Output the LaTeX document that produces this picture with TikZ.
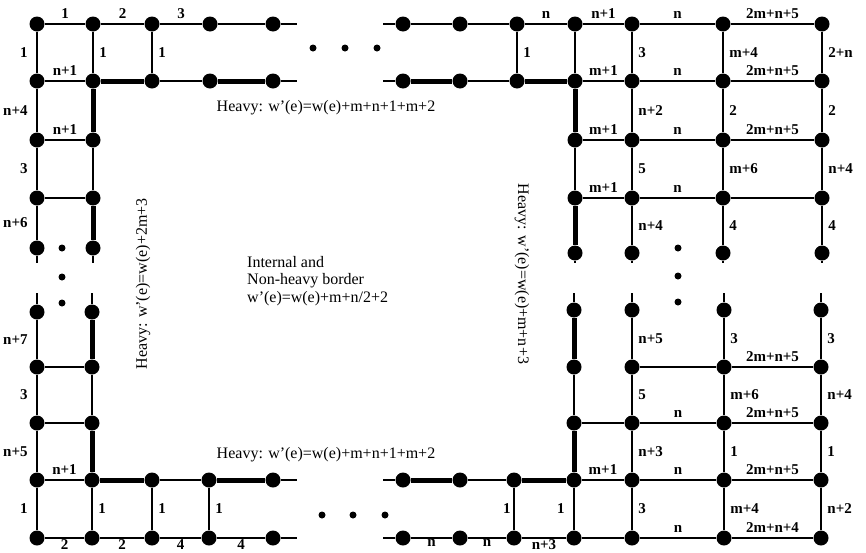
\documentclass[tikz,border=0pt]{standalone}
\usepackage{fontspec}
\setmainfont{Liberation Serif}
\usepackage{tikz}

\begin{document}
\begin{tikzpicture}[
  x=1pt, y=-1pt,
  vtx/.style={circle, fill=black, inner sep=0pt, minimum size=15pt},
  gap/.style={circle, fill=black, inner sep=0pt, minimum size=7pt},
  edg/.style={line width=1.8pt},
  hvy/.style={line width=5pt},
  lbl/.style={font=\fontsize{15}{16}\selectfont\bfseries, inner sep=2.5pt},
  wtop/.style={lbl, above=2pt},
  wbot/.style={lbl, below=-1.5pt},
  wlft/.style={lbl, left=6pt},
  wrgt/.style={lbl, right=3pt},
  note/.style={font=\fontsize{16}{17.5}\selectfont, inner sep=0pt, align=left},
]
\useasboundingbox (0,0) rectangle (866,552);
\clip (0,0) rectangle (866,552);

%% ===== TOP-LEFT CORNER =====
\node[vtx] (a11) at (37,24) {};  \node[vtx] (a12) at (93,24) {};  \node[vtx] (a13) at (152,24) {};
\node[vtx] (a14) at (210,24) {}; \node[vtx] (a15) at (273,24) {};
\node[vtx] (a21) at (37,81) {};  \node[vtx] (a22) at (93,81) {};  \node[vtx] (a23) at (152,81) {};
\node[vtx] (a24) at (210,81) {}; \node[vtx] (a25) at (273,81) {};
\node[vtx] (a31) at (37,140) {}; \node[vtx] (a32) at (93,140) {};
\node[vtx] (a41) at (37,198) {}; \node[vtx] (a42) at (93,198) {};
\node[vtx] (a51) at (37,248) {}; \node[vtx] (a52) at (93,248) {};
\coordinate (a1e) at (297,24);
\coordinate (a2e) at (297,81);
\coordinate (a6l) at (37,263);
\coordinate (a6r) at (93,263);

\draw[edg] (a11) -- node[wtop] {1} (a12) -- node[wtop] {2} (a13) -- node[wtop] {3} (a14) -- (a15) -- (a1e);
\draw[edg] (a21) -- node[wtop] {n+1} (a22);
\draw[hvy] (a22) -- (a23);
\draw[edg] (a23) -- (a24);
\draw[hvy] (a24) -- (a25);
\draw[edg] (a25) -- (a2e);
\draw[edg] (a11) -- node[wlft] {1} (a21);
\draw[edg] (a12) -- node[wrgt] {1} (a22);
\draw[edg] (a13) -- node[wrgt] {1} (a23);
\draw[edg] (a21) -- node[wlft] {n+4} (a31) -- node[wlft] {3} (a41) -- node[wlft] {n+6} (a51) -- (a6l);
\draw[hvy] (a22) -- (a32);
\draw[edg] (a32) -- (a42);
\draw[hvy] (a42) -- (a52);
\draw[edg] (a52) -- (a6r);
\draw[edg] (a31) -- node[wtop] {n+1} (a32);
\draw[edg] (a41) -- (a42);

%% ===== TOP-RIGHT CORNER =====
\node[vtx] (b11) at (403,24) {}; \node[vtx] (b12) at (460,24) {}; \node[vtx] (b13) at (517,24) {};
\node[vtx] (b14) at (575,24) {}; \node[vtx] (b15) at (632,24) {}; \node[vtx] (b16) at (723,24) {};
\node[vtx] (b17) at (822,24) {};
\node[vtx] (b21) at (403,81) {}; \node[vtx] (b22) at (460,81) {}; \node[vtx] (b23) at (517,81) {};
\node[vtx] (b24) at (575,81) {}; \node[vtx] (b25) at (632,81) {}; \node[vtx] (b26) at (723,81) {};
\node[vtx] (b27) at (822,81) {};
\node[vtx] (b34) at (575,140) {}; \node[vtx] (b35) at (632,140) {}; \node[vtx] (b36) at (723,140) {};
\node[vtx] (b37) at (822,140) {};
\node[vtx] (b44) at (575,198) {}; \node[vtx] (b45) at (632,198) {}; \node[vtx] (b46) at (723,198) {};
\node[vtx] (b47) at (822,198) {};
\node[vtx] (b54) at (575,253) {}; \node[vtx] (b55) at (632,253) {}; \node[vtx] (b56) at (723,253) {};
\node[vtx] (b57) at (822,253) {};
\coordinate (b1w) at (383,24);
\coordinate (b2w) at (383,81);
\coordinate (b64) at (575,263); \coordinate (b65) at (632,263);
\coordinate (b66) at (723,263); \coordinate (b67) at (822,263);

\draw[edg] (b1w) -- (b11) -- (b12) -- (b13) -- node[wtop] {n} (b14) -- node[wtop] {n+1} (b15)
  -- node[wtop] {n} (b16) -- node[wtop] {2m+n+5} (b17);
\draw[edg] (b2w) -- (b21);
\draw[hvy] (b21) -- (b22);
\draw[edg] (b22) -- (b23);
\draw[hvy] (b23) -- (b24);
\draw[edg] (b24) -- node[wtop] {m+1} (b25) -- node[wtop] {n} (b26) -- node[wtop] {2m+n+5} (b27);
\draw[edg] (b13) -- node[wrgt] {1} (b23);
\draw[edg] (b14) -- (b24);
\draw[edg] (b15) -- node[wrgt] {3} (b25);
\draw[edg] (b16) -- node[wrgt] {m+4} (b26);
\draw[edg] (b17) -- node[wrgt] {2+n} (b27);
\draw[edg] (b34) -- node[wtop] {m+1} (b35) -- node[wtop] {n} (b36) -- node[wtop] {2m+n+5} (b37);
\draw[edg] (b44) -- node[wtop] {m+1} (b45) -- node[wtop] {n} (b46) -- (b47);
\draw[hvy] (b24) -- (b34);
\draw[edg] (b34) -- (b44);
\draw[hvy] (b44) -- (b54);
\draw[edg] (b54) -- (b64);
\draw[edg] (b25) -- node[wrgt] {n+2} (b35) -- node[wrgt] {5} (b45) -- node[wrgt] {n+4} (b55) -- (b65);
\draw[edg] (b26) -- node[wrgt] {2} (b36) -- node[wrgt] {m+6} (b46) -- node[wrgt] {4} (b56) -- (b66);
\draw[edg] (b27) -- node[wrgt] {2} (b37) -- node[wrgt] {n+4} (b47) -- node[wrgt] {4} (b57) -- (b67);

%% ===== BOTTOM-LEFT CORNER =====
\node[vtx] (c11) at (37,312) {}; \node[vtx] (c12) at (92,312) {};
\node[vtx] (c21) at (37,367) {}; \node[vtx] (c22) at (92,367) {};
\node[vtx] (c31) at (37,423) {}; \node[vtx] (c32) at (92,423) {};
\node[vtx] (c41) at (37,480) {};  \node[vtx] (c42) at (92,480) {};  \node[vtx] (c43) at (152,480) {};
\node[vtx] (c44) at (209,480) {}; \node[vtx] (c45) at (273,480) {};
\node[vtx] (c51) at (37,538) {};  \node[vtx] (c52) at (92,538) {};  \node[vtx] (c53) at (152,538) {};
\node[vtx] (c54) at (209,538) {}; \node[vtx] (c55) at (273,538) {};
\coordinate (c01) at (37,293);
\coordinate (c02) at (92,293);
\coordinate (c4e) at (297,480);
\coordinate (c5e) at (297,538);

\draw[edg] (c01) -- (c11) -- node[wlft] {n+7} (c21) -- node[wlft] {3} (c31) -- node[wlft] {n+5} (c41)
  -- node[wlft] {1} (c51);
\draw[edg] (c02) -- (c12);
\draw[hvy] (c12) -- (c22);
\draw[edg] (c22) -- (c32);
\draw[hvy] (c32) -- (c42);
\draw[edg] (c42) -- node[wrgt] {1} (c52);
\draw[edg] (c21) -- (c22);
\draw[edg] (c31) -- (c32);
\draw[edg] (c41) -- node[wtop] {n+1} (c42);
\draw[hvy] (c42) -- (c43);
\draw[edg] (c43) -- (c44);
\draw[hvy] (c44) -- (c45);
\draw[edg] (c45) -- (c4e);
\draw[edg] (c43) -- node[wrgt] {1} (c53);
\draw[edg] (c44) -- node[wrgt] {1} (c54);
\draw[edg] (c51) -- node[wbot] {2} (c52) -- node[wbot] {2} (c53) -- node[wbot] {4} (c54)
  -- node[wbot] {4} (c55) -- (c5e);

%% ===== BOTTOM-RIGHT CORNER =====
\node[vtx] (d14) at (574,310) {}; \node[vtx] (d15) at (632,310) {}; \node[vtx] (d16) at (724,310) {};
\node[vtx] (d17) at (821,310) {};
\node[vtx] (d24) at (574,367) {}; \node[vtx] (d25) at (632,367) {}; \node[vtx] (d26) at (724,367) {};
\node[vtx] (d27) at (821,367) {};
\node[vtx] (d34) at (574,423) {}; \node[vtx] (d35) at (632,423) {}; \node[vtx] (d36) at (724,423) {};
\node[vtx] (d37) at (821,423) {};
\node[vtx] (d41) at (403,480) {}; \node[vtx] (d42) at (460,480) {}; \node[vtx] (d43) at (514,480) {};
\node[vtx] (d44) at (574,480) {}; \node[vtx] (d45) at (632,480) {}; \node[vtx] (d46) at (724,480) {};
\node[vtx] (d47) at (821,480) {};
\node[vtx] (d51) at (403,538) {}; \node[vtx] (d52) at (460,538) {}; \node[vtx] (d53) at (514,538) {};
\node[vtx] (d54) at (574,538) {}; \node[vtx] (d55) at (632,538) {}; \node[vtx] (d56) at (724,538) {};
\node[vtx] (d57) at (821,538) {};
\coordinate (d04) at (574,293); \coordinate (d05) at (632,293);
\coordinate (d06) at (724,293); \coordinate (d07) at (821,293);
\coordinate (d4w) at (383,480);
\coordinate (d5w) at (383,538);

\draw[edg] (d04) -- (d14);
\draw[hvy] (d14) -- (d24);
\draw[edg] (d24) -- (d34);
\draw[hvy] (d34) -- (d44);
\draw[edg] (d44) -- node[wlft] {1} (d54);
\draw[edg] (d05) -- (d15) -- node[wrgt] {n+5} (d25) -- node[wrgt] {5} (d35) -- node[wrgt] {n+3} (d45)
  -- node[wrgt] {3} (d55);
\draw[edg] (d06) -- (d16) -- node[wrgt] {3} (d26) -- node[wrgt] {m+6} (d36) -- node[wrgt] {1} (d46)
  -- node[wrgt] {m+4} (d56);
\draw[edg] (d07) -- (d17) -- node[wrgt] {3} (d27) -- node[wrgt] {n+4} (d37) -- node[wrgt] {1} (d47)
  -- node[wrgt] {n+2} (d57);
\draw[edg] (d25) -- (d26) -- node[wtop] {2m+n+5} (d27);
\draw[edg] (d34) -- (d35) -- node[wtop] {n} (d36) -- node[wtop] {2m+n+5} (d37);
\draw[edg] (d4w) -- (d41);
\draw[hvy] (d41) -- (d42);
\draw[edg] (d42) -- (d43);
\draw[hvy] (d43) -- (d44);
\draw[edg] (d44) -- node[wtop] {m+1} (d45) -- node[wtop] {n} (d46) -- node[wtop] {2m+n+5} (d47);
\draw[edg] (d43) -- node[lbl, left=0pt] {1} (d53);
\draw[edg] (d5w) -- (d51) -- node[wbot] {n} (d52) -- node[wbot] {n} (d53) -- node[wbot] {n+3} (d54)
  -- (d55) -- node[wtop] {n} (d56) -- node[wtop] {2m+n+4} (d57);

%% ===== ELLIPSIS DOTS =====
\node[gap] (tdot1) at (313,48) {}; \node[gap] (tdot2) at (345,48) {}; \node[gap] (tdot3) at (377,48) {};
\node[gap] (bdot1) at (322,515) {}; \node[gap] (bdot2) at (353,515) {}; \node[gap] (bdot3) at (385,515) {};
\node[gap] (ldot1) at (62,248) {}; \node[gap] (ldot2) at (62,277) {}; \node[gap] (ldot3) at (62,303) {};
\node[gap] (rdot1) at (678,248) {}; \node[gap] (rdot2) at (678,276) {}; \node[gap] (rdot3) at (678,302) {};

%% ===== WEIGHT RULES =====
\node[note] (hvtop) at (326,108) {Heavy: w'(e)=w(e)+m+n+1+m+2};
\node[note] (hvbot) at (326,455) {Heavy: w'(e)=w(e)+m+n+1+m+2};
\node[note, rotate=90] (hvleft) at (143,284) {Heavy: w'(e)=w(e)+2m+3};
\node[note, rotate=-90] (hvright) at (522,274) {Heavy: w'(e)=w(e)+m+n+3};
\node[note, anchor=west] (inner) at (247,281) {Internal and\\Non-heavy border\\w'(e)=w(e)+m+n/2+2};

\end{tikzpicture}
\end{document}
